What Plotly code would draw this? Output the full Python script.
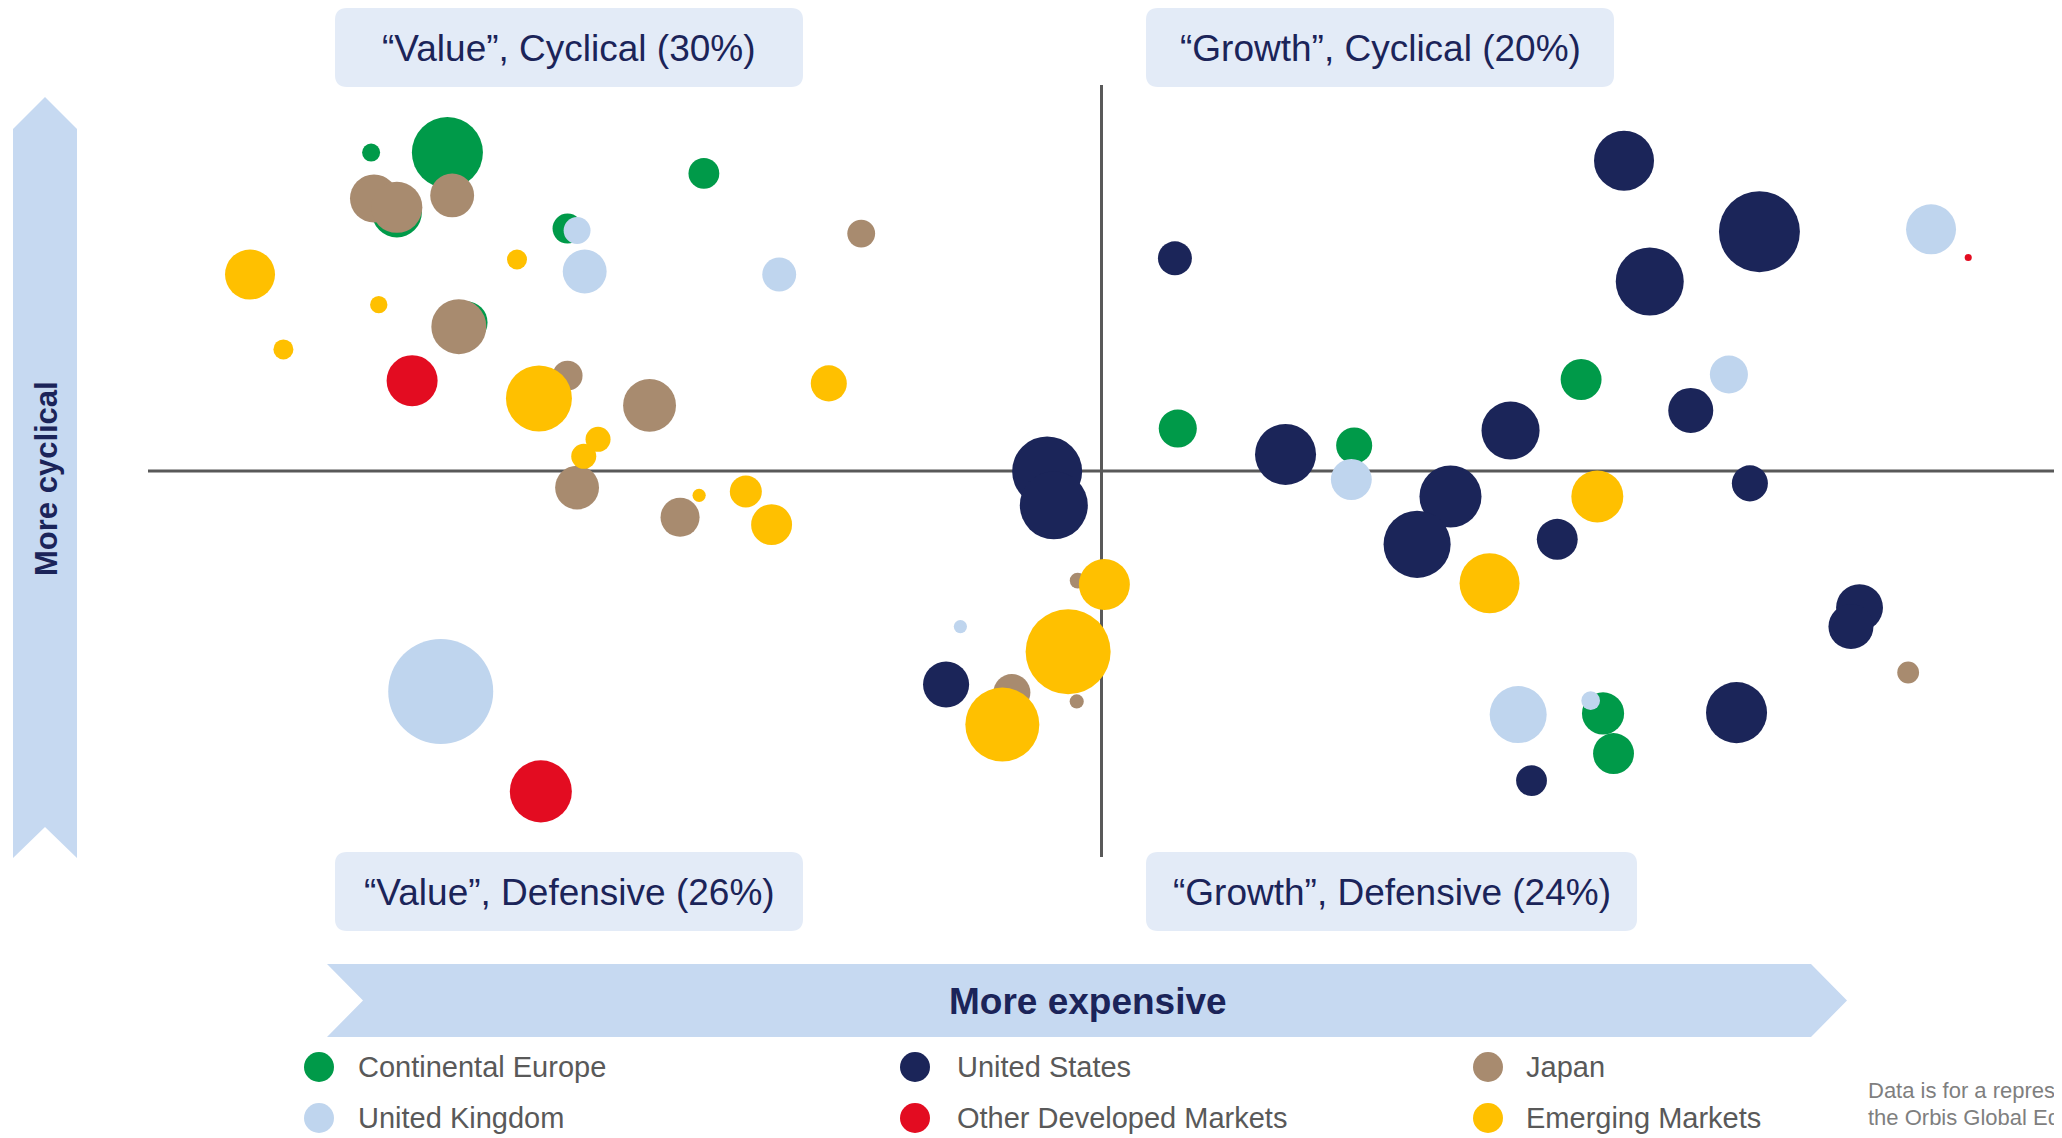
import plotly.graph_objects as go

# ---------------- data (valuation score, cyclicality score, portfolio weight %) ----------------
regions = ["Continental Europe", "United Kingdom", "United States",
           "Other Developed Markets", "Japan", "Emerging Markets"]

ce_x = [-76.6, -68.6, -73.9, -41.7, -56.0, -66.6, 50.3, 8.0, 26.5, 52.6, 53.7]
ce_y = [82.5, 82.5, 67.0, 77.1, 62.8, 38.5, 23.7, 11.0, 6.6, -62.8, -73.2]
ce_w = [0.13, 2.02, 1.00, 0.38, 0.36, 0.71, 0.67, 0.58, 0.52, 0.71, 0.67]

uk_x = [-55.0, -54.2, -33.8, 87.0, 65.8, 26.2, -14.8, -69.3, 43.7, 51.3]
uk_y = [62.3, 51.7, 50.9, 62.6, 25.0, -2.2, -40.3, -57.1, -63.1, -59.5]
uk_w = [0.29, 0.77, 0.46, 1.00, 0.58, 0.67, 0.07, 4.41, 1.30, 0.14]

us_x = [-5.7, -5.0, 54.8, 69.0, 7.7, 57.5, 61.8, 19.3, 42.9, 36.6, 68.0, 33.1,
        47.8, -16.3, 79.5, 78.6, 45.1, 66.6]
us_y = [-0.1, -8.9, 80.4, 62.0, 55.1, 49.1, 15.7, 4.3, 10.5, -6.6, -3.2, -19.0,
        -17.7, -55.3, -35.4, -40.3, -80.2, -62.6]
us_w = [1.96, 1.85, 1.44, 2.62, 0.46, 1.85, 0.81, 1.49, 1.35, 1.54, 0.52, 1.80,
        0.67, 0.85, 0.88, 0.81, 0.38, 1.49]

odm_x = [-72.3, 90.9, -58.8]
odm_y = [23.4, 55.3, -83.0]
odm_w = [1.04, 0.02, 1.54]

jp_x = [-76.3, -73.9, -68.1, -25.2, -67.4, -56.0, -47.4, -55.0, -44.2, -2.5, -2.6, -9.4, 84.6]
jp_y = [70.6, 68.3, 71.4, 61.5, 37.4, 24.7, 17.0, -4.3, -12.0, -28.4, -59.7, -57.4, -52.2]
jp_w = [0.92, 1.04, 0.77, 0.31, 1.21, 0.36, 1.12, 0.77, 0.61, 0.10, 0.08, 0.55, 0.19]

em_x = [-89.3, -61.3, -75.8, -85.8, -59.0, -28.6, -52.8, -54.3, -42.2, -37.3, -34.6,
        52.0, 40.7, 0.3, -3.5, -10.4]
em_y = [50.9, 54.8, 43.1, 31.5, 18.8, 22.7, 8.2, 3.8, -6.3, -5.3, -13.9,
        -6.6, -29.1, -29.4, -46.8, -65.7]
em_w = [1.00, 0.16, 0.12, 0.16, 1.74, 0.52, 0.25, 0.25, 0.07, 0.41, 0.67,
        1.08, 1.44, 1.04, 2.89, 2.19]

quadrant_labels = ["\u201cValue\u201d, Cyclical (30%)", "\u201cGrowth\u201d, Cyclical (20%)",
                   "\u201cValue\u201d, Defensive (26%)", "\u201cGrowth\u201d, Defensive (24%)"]
x_axis_title = "More expensive"
y_axis_title = "More cyclical"
footnote = ["Data is for a representative account in", "the Orbis Global Equity Strategy."]

# ---------------- styles ----------------
colors = {
    "Continental Europe": "#009A49",
    "United Kingdom": "#BFD5EE",
    "United States": "#1B2559",
    "Other Developed Markets": "#E30C21",
    "Japan": "#A88B6F",
    "Emerging Markets": "#FFC000",
}
NAVY = "#1B2459"
BOX = "#E3EBF7"
ARROW = "#C6D9F1"
FONT = "Liberation Sans, Arial, sans-serif"

# page window and body margin of the html page
WIN_W, WIN_H = 2062, 1138
BODY = 8
FIG_W, FIG_H = WIN_W - BODY, WIN_H - BODY
# plot area in window pixels
PL, PR, PT, PB = 148, 2055, 85, 857


def px(X):
    return (X - PL) / (PR - PL)


def py(Y):
    return (PB - Y) / (PB - PT)


def rounded_rect(x0, y0, x1, y1, r):
    rx = r / (PR - PL)
    ry = r / (PB - PT)
    a, b, c, d = px(x0), px(x1), py(y0), py(y1)
    return (f"M{a+rx},{c} L{b-rx},{c} Q{b},{c} {b},{c-ry} L{b},{d+ry} Q{b},{d} {b-rx},{d} "
            f"L{a+rx},{d} Q{a},{d} {a},{d+ry} L{a},{c-ry} Q{a},{c} {a+rx},{c} Z")


def poly(points):
    pts = [f"{px(X)},{py(Y)}" for X, Y in points]
    return "M" + " L".join(pts) + " Z"


fig = go.Figure()

SIZEREF = 2.0 / 50 ** 2
series = [
    ("Continental Europe", ce_x, ce_y, ce_w),
    ("United Kingdom", uk_x, uk_y, uk_w),
    ("United States", us_x, us_y, us_w),
    ("Other Developed Markets", odm_x, odm_y, odm_w),
    ("Japan", jp_x, jp_y, jp_w),
    ("Emerging Markets", em_x, em_y, em_w),
]
for name, xs, ys, ws in series:
    fig.add_trace(go.Scatter(
        x=xs, y=ys, mode="markers", name=name, cliponaxis=False,
        marker=dict(size=ws, sizemode="area", sizeref=SIZEREF, color=colors[name],
                    opacity=1, line=dict(width=0)),
        hovertemplate=name + "<br>weight %{marker.size}%<extra></extra>",
    ))

shapes = []
shapes.append(dict(type="line", xref="paper", yref="y", x0=0, x1=1, y0=0, y1=0,
                   line=dict(color="#595959", width=3), layer="below"))
shapes.append(dict(type="line", xref="x", yref="paper", x0=0, x1=0, y0=0, y1=1,
                   line=dict(color="#595959", width=3), layer="below"))

boxes = [(335, 8, 803, 87), (1146, 8, 1614, 87), (335, 852, 803, 931), (1146, 852, 1637, 931)]
for (x0, y0, x1, y1) in boxes:
    shapes.append(dict(type="path", xref="paper", yref="paper", path=rounded_rect(x0, y0, x1, y1, 12),
                       fillcolor=BOX, line=dict(width=0)))

shapes.append(dict(type="path", xref="paper", yref="paper",
                   path=poly([(13, 858), (13, 129), (45, 97), (77, 129), (77, 858), (45, 827)]),
                   fillcolor=ARROW, line=dict(width=0)))
shapes.append(dict(type="path", xref="paper", yref="paper",
                   path=poly([(327, 964), (1811, 964), (1847, 1000.5), (1811, 1037), (327, 1037), (363, 1000.5)]),
                   fillcolor=ARROW, line=dict(width=0)))

annotations = []
label_pos = [(569, 48), (1380, 48), (569, 892), (1391.5, 892)]
for txt, (X, Y) in zip(quadrant_labels, label_pos):
    annotations.append(dict(text=txt, x=px(X), y=py(Y), xref="paper", yref="paper",
                            xanchor="center", yanchor="middle", showarrow=False,
                            font=dict(family=FONT, size=37, color=NAVY)))

annotations.append(dict(text=f"<b>{x_axis_title}</b>", x=px(1088), y=py(1001), xref="paper", yref="paper",
                        xanchor="center", yanchor="middle", showarrow=False,
                        font=dict(family=FONT, size=37, color=NAVY)))
annotations.append(dict(text=f"<b>{y_axis_title}</b>", x=px(46), y=py(479), xref="paper", yref="paper",
                        xanchor="center", yanchor="middle", showarrow=False, textangle=-90,
                        font=dict(family=FONT, size=31, color=NAVY)))

legend_order = ["Continental Europe", "United States", "Japan",
                "United Kingdom", "Other Developed Markets", "Emerging Markets"]
col_marker_x = [319, 915, 1488]
col_text_x = [356, 955, 1524]
row_y = [1067, 1118]
for i, name in enumerate(legend_order):
    r, c = divmod(i, 3)
    mx, my = col_marker_x[c], row_y[r]
    shapes.append(dict(type="circle", xref="paper", yref="paper",
                       x0=px(mx - 15), x1=px(mx + 15), y0=py(my + 15), y1=py(my - 15),
                       fillcolor=colors[name], line=dict(width=0)))
    annotations.append(dict(text=name, x=px(col_text_x[c]), y=py(my), xref="paper", yref="paper",
                            xanchor="left", yanchor="middle", showarrow=False,
                            font=dict(family=FONT, size=29, color="#595959")))

for j, line in enumerate(footnote):
    annotations.append(dict(text=line, x=px(1866), y=py(1090 + 27 * j), xref="paper", yref="paper",
                            xanchor="left", yanchor="middle", showarrow=False,
                            font=dict(family=FONT, size=22, color="#7F7F7F")))

fig.update_layout(
    width=FIG_W, height=FIG_H,
    margin=dict(l=PL - BODY, r=WIN_W - PR, t=PT - BODY, b=WIN_H - PB, pad=0),
    paper_bgcolor="white", plot_bgcolor="white",
    showlegend=False,
    xaxis=dict(range=[-100, 100], visible=False, fixedrange=True),
    yaxis=dict(range=[-100, 100], visible=False, fixedrange=True),
    shapes=shapes, annotations=annotations,
    font=dict(family=FONT),
)

fig.write_html("out.html", config={"displayModeBar": False})
